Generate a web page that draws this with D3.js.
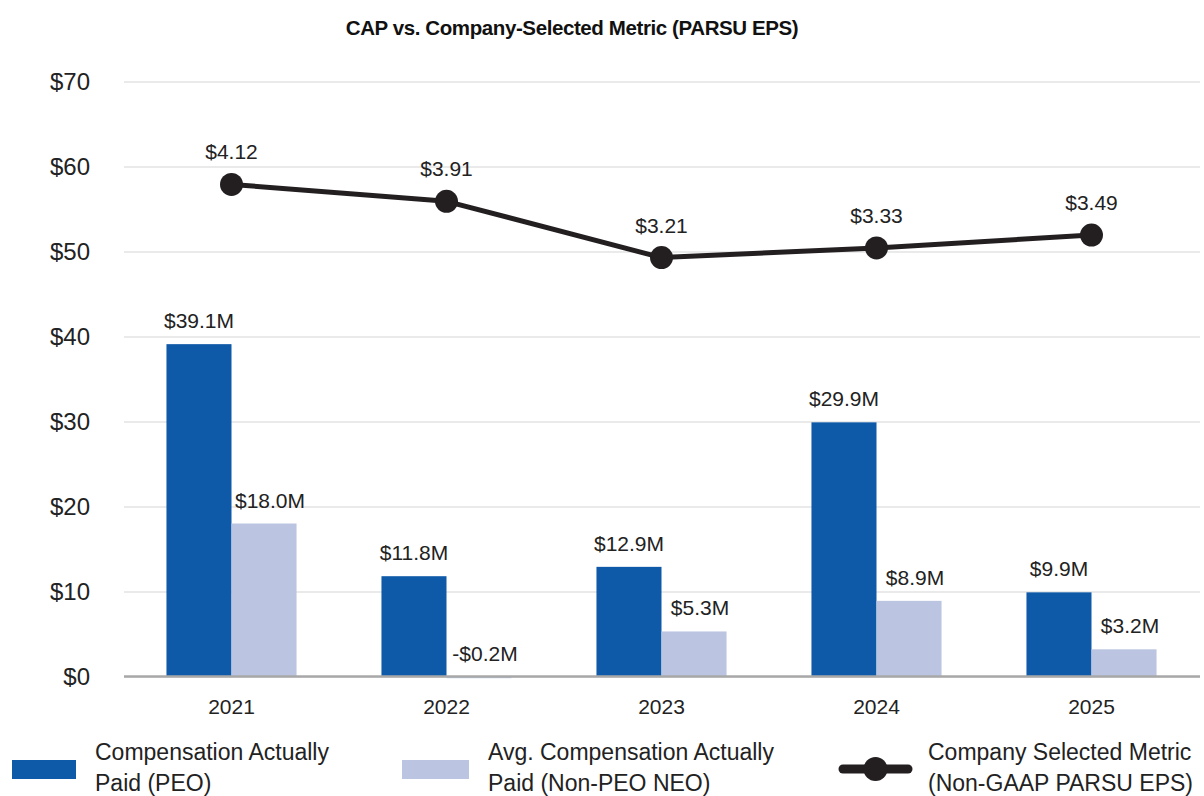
<!DOCTYPE html>
<html>
<head>
<meta charset="utf-8">
<script src="https://cdn.jsdelivr.net/npm/d3@7"></script>
<style>
  html, body { margin: 0; padding: 0; background: #fff; }
  svg { display: block; font-family: "Liberation Sans", Arial, sans-serif; }
</style>
</head>
<body>
<svg id="chart" width="1204" height="796"></svg>
<script>
// Fiscal years shown on the x axis
const years = ["2021", "2022", "2023", "2024", "2025"];
// Compensation actually paid, $ millions
const capPEO = [39.1, 11.8, 12.9, 29.9, 9.9];
const capNEO = [18.0, -0.2, 5.3, 8.9, 3.2];
// Non-GAAP PARSU EPS, $
const eps = [4.12, 3.91, 3.21, 3.33, 3.49];
// Left axis ticks ($ millions)
const yTicks = [0, 10, 20, 30, 40, 50, 60, 70];

const seriesNames = [
  ["Compensation Actually", "Paid (PEO)"],
  ["Avg. Compensation Actually", "Paid (Non-PEO NEO)"],
  ["Company Selected Metric", "(Non-GAAP PARSU EPS)"]
];

const colPEO = "#0f5aa8";
const colNEO = "#bbc5e2";
const colLine = "#231f20";
const textCol = "#222";

const svg = d3.select("#chart");
const plotL = 124, plotR = 1199, plotT = 81.5, plotB = 676.5;

const x = d3.scaleBand().domain(years).range([plotL, plotR])
  .paddingInner(0.395).paddingOuter(0.1975);
const xs = d3.scaleBand().domain(["peo", "neo"]).range([0, x.bandwidth()]);
const y = d3.scaleLinear().domain([0, 70]).range([plotB, plotT]);
// EPS sits on its own (unlabelled) secondary scale
const yEps = d3.scaleLinear().domain([-2, 5.4]).range([plotB, plotT]);

// Title
svg.append("text")
  .attr("x", 572).attr("y", 35)
  .attr("text-anchor", "middle")
  .attr("font-weight", "bold").attr("font-size", 20.5)
  .attr("letter-spacing", -0.4)
  .attr("fill", "#111")
  .text("CAP vs. Company-Selected Metric (PARSU EPS)");

// Gridlines + left tick labels
const yAxis = svg.append("g")
  .attr("transform", `translate(${plotL},0)`)
  .call(d3.axisLeft(y).tickValues(yTicks).tickFormat(d => "$" + d)
    .tickSize(-(plotR - plotL + 1)).tickPadding(34));
yAxis.select(".domain").remove();
yAxis.selectAll(".tick line").attr("stroke", "#e3e3e3").attr("stroke-width", 1.5);
yAxis.selectAll(".tick text").attr("font-size", 24).attr("fill", textCol)
  .attr("font-family", "Liberation Sans, Arial, sans-serif");

// Bars (negative values clip at the baseline)
const barData = years.flatMap((yr, i) => [
  { year: yr, key: "peo", value: capPEO[i] },
  { year: yr, key: "neo", value: capNEO[i] }
]);
svg.append("g").selectAll("rect").data(barData).join("rect")
  .attr("x", d => x(d.year) + xs(d.key))
  .attr("width", xs.bandwidth())
  .attr("y", d => y(Math.max(0, d.value)))
  .attr("height", d => Math.abs(y(d.value) - y(0)))
  .attr("fill", d => d.key === "peo" ? colPEO : colNEO);

// Zero baseline
svg.append("line")
  .attr("x1", plotL).attr("x2", plotR + 1)
  .attr("y1", y(0)).attr("y2", y(0))
  .attr("stroke", "#a8a8a8").attr("stroke-width", 2.5);

// Bar value labels
const fmtM = v => (v < 0 ? "-$" : "$") + Math.abs(v).toFixed(1) + "M";
svg.append("g").selectAll("text").data(barData).join("text")
  .attr("x", d => x(d.year) + xs(d.key) + xs.bandwidth() / 2 + (d.key === "neo" ? 6 : 0))
  .attr("y", d => y(Math.max(0, d.value)) - 16)
  .attr("text-anchor", "middle")
  .attr("font-size", 21).attr("fill", textCol)
  .text(d => fmtM(d.value));

// X axis labels
svg.append("g").selectAll("text").data(years).join("text")
  .attr("x", d => x(d) + x.bandwidth() / 2)
  .attr("y", 714)
  .attr("text-anchor", "middle")
  .attr("font-size", 21).attr("fill", textCol)
  .text(d => d);

// EPS line
const cx = (d, i) => x(years[i]) + x.bandwidth() / 2;
const line = d3.line().x((d, i) => cx(d, i)).y(d => yEps(d));
svg.append("path").datum(eps)
  .attr("d", line)
  .attr("fill", "none").attr("stroke", colLine)
  .attr("stroke-width", 5).attr("stroke-linejoin", "round");
svg.append("g").selectAll("circle").data(eps).join("circle")
  .attr("cx", cx).attr("cy", d => yEps(d)).attr("r", 11.5)
  .attr("fill", colLine);
svg.append("g").selectAll("text").data(eps).join("text")
  .attr("x", cx).attr("y", d => yEps(d) - 25)
  .attr("text-anchor", "middle")
  .attr("font-size", 21).attr("fill", textCol)
  .text(d => "$" + d.toFixed(2));

// Legend
const legendX = [12, 402, 843];
const legendTextX = [95, 488, 928];
const lg = svg.append("g");
lg.append("rect").attr("x", legendX[0]).attr("y", 760).attr("width", 64).attr("height", 19).attr("fill", colPEO);
lg.append("rect").attr("x", legendX[1]).attr("y", 760).attr("width", 67).attr("height", 19).attr("fill", colNEO);
lg.append("line").attr("x1", legendX[2]).attr("x2", legendX[2] + 65)
  .attr("y1", 769).attr("y2", 769)
  .attr("stroke", colLine).attr("stroke-width", 9).attr("stroke-linecap", "round");
lg.append("circle").attr("cx", legendX[2] + 32.5).attr("cy", 769).attr("r", 12).attr("fill", colLine);
seriesNames.forEach((lines, i) => {
  const t = lg.append("text").attr("font-size", 23).attr("fill", textCol);
  lines.forEach((ln, j) => {
    t.append("tspan").attr("x", legendTextX[i]).attr("y", 760 + j * 31).text(ln);
  });
});
</script>
</body>
</html>
